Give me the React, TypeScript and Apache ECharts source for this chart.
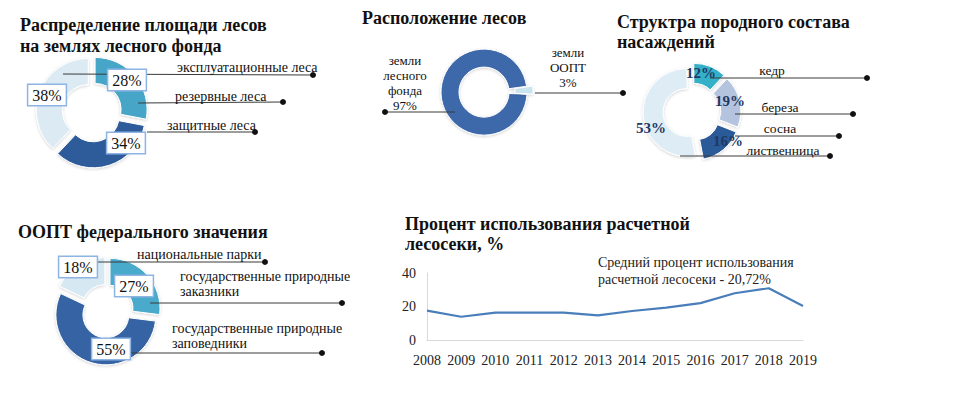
import React, { useEffect, useRef } from "react";
import * as echarts from "echarts";

// ---------- data ----------
const forestTypes = ["резервные леса", "защитные леса", "эксплуатационные леса"];
const forestTypeShares = [28, 34, 38];

const landCategories = ["земли\nлесного\nфонда", "земли\nООПТ"];
const landShares = [97, 3];

const species = ["кедр", "береза", "сосна", "лиственница"];
const speciesShares = [12, 19, 16, 53];

const ooptTypes = [
  "государственные природные\nзаказники",
  "государственные природные\nзаповедники",
  "национальные парки",
];
const ooptShares = [27, 55, 18];

const years = ["2008", "2009", "2010", "2011", "2012", "2013", "2014", "2015", "2016", "2017", "2018", "2019"];
const cuttingUsage = [17.5, 13.9, 16.3, 16.3, 16.3, 14.7, 17.3, 19.3, 22.0, 27.9, 30.9, 20.3];
const usageTicks = [0, 20, 40];

const titles = [
  "Распределение площади лесов\nна землях лесного фонда",
  "Расположение лесов",
  "Структра породного состава\nнасаждений",
  "ООПТ федерального значения",
  "Процент использования расчетной\nлесосеки, %",
];
const averageNote = "Средний процент использования\nрасчетной лесосеки - 20,72%";

// ---------- layout / style ----------
const FONT = "Liberation Serif, Times New Roman, serif";

const forestColors = ["#47a6c8", "#2d5b9b", "#dbeaf3"];
const landColors = ["#3d69ab", "#c9e3ef"];
const speciesColors = ["#36b0c9", "#b4c4df", "#2c5a97", "#deedf5"];
const ooptColors = ["#49aacb", "#3463a3", "#d6e9f3"];

type Leader = { from: number[]; dot: number[]; text?: number[]; align?: string };

const forestLayout = {
  center: [92, 112],
  radius: [26, 52],
  labels: [[127, 80], [126, 143], [47, 95]],
  leaders: [
    { from: [138, 103], dot: [283, 102], text: [175, 96], align: "left" },
    { from: [147, 132], dot: [255, 132], text: [167, 125], align: "left" },
    { from: [63, 74], dot: [313, 75], text: [177, 67], align: "left" },
  ] as Leader[],
};
const landLayout = {
  center: [487, 92],
  radius: [25, 43],
  labels: [[405, 83], [568, 67]],
  leaders: [
    { from: [455, 112], dot: [385, 112] },
    { from: [535, 93], dot: [623, 93] },
  ] as Leader[],
};
const speciesLayout = {
  center: [692, 112],
  radius: [24, 44],
  labels: [[701, 73], [730, 101], [728, 141], [651, 128]],
  leaders: [
    { from: [710, 78], dot: [867, 78], text: [772, 70], align: "center" },
    { from: [735, 114], dot: [853, 114], text: [780, 107], align: "center" },
    { from: [735, 136], dot: [839, 136], text: [780, 128], align: "center" },
    { from: [680, 156], dot: [830, 156], text: [783, 150], align: "center" },
  ] as Leader[],
};
const ooptLayout = {
  center: [107, 311],
  radius: [23, 50],
  labels: [[134, 286], [111, 349], [78, 267]],
  leaders: [
    { from: [150, 303], dot: [342, 303], text: [180, 284], align: "left" },
    { from: [130, 353], dot: [322, 353], text: [172, 336], align: "left" },
    { from: [90, 262], dot: [265, 262], text: [137, 254], align: "left" },
  ] as Leader[],
};

const boxStyle = {
  fontFamily: FONT,
  fontSize: 16,
  fill: "#111",
  align: "center",
  verticalAlign: "middle",
  backgroundColor: "#ffffff",
  borderColor: "#8eb4e3",
  borderWidth: 1.5,
  padding: [3, 4, 1, 4],
};
const speciesPctStyle = {
  fontFamily: FONT,
  fontSize: 15,
  fontWeight: "bold",
  fill: "#1f3864",
  align: "center",
  verticalAlign: "middle",
};
const landTextStyle = {
  fontFamily: FONT,
  fontSize: 13,
  lineHeight: 15,
  fill: "#111",
  align: "center",
  verticalAlign: "middle",
};

function pieSeries(
  names: string[],
  values: number[],
  colors: string[],
  layout: { center: number[]; radius: number[] },
  offset: number,
  startAngle: number
) {
  return {
    type: "pie",
    silent: true,
    center: layout.center,
    radius: layout.radius,
    startAngle,
    clockwise: true,
    selectedMode: "multiple",
    selectedOffset: offset,
    itemStyle: {
      borderColor: "#ffffff",
      borderWidth: 1,
      shadowColor: "rgba(0,0,0,0.18)",
      shadowBlur: 3,
      shadowOffsetY: 1,
    },
    select: { itemStyle: { borderColor: "#ffffff", borderWidth: 1 } },
    label: { show: false },
    labelLine: { show: false },
    data: values.map((v, i) => ({
      name: names[i],
      value: v,
      selected: true,
      itemStyle: { color: colors[i] },
    })),
  };
}

function pctGraphics(texts: string[], positions: number[][], style: any) {
  return texts.map((t, i) => ({
    type: "text",
    silent: true,
    z: 100,
    x: positions[i][0],
    y: positions[i][1],
    style: { ...style, text: t },
  }));
}

function leaderGraphics(names: string[] | null, leaders: Leader[], fontSize = 14) {
  const out: any[] = [];
  leaders.forEach((l, i) => {
    out.push({
      type: "line",
      silent: true,
      z: 90,
      shape: { x1: l.from[0], y1: l.from[1], x2: l.dot[0], y2: l.dot[1] },
      style: { stroke: "#3a3a3a", lineWidth: 1 },
    });
    out.push({
      type: "circle",
      silent: true,
      z: 90,
      shape: { cx: l.dot[0], cy: l.dot[1], r: 3 },
      style: { fill: "#111" },
    });
    if (names && l.text) {
      out.push({
        type: "text",
        silent: true,
        z: 90,
        x: l.text[0],
        y: l.text[1],
        style: {
          text: names[i],
          fontFamily: FONT,
          fontSize,
          fill: "#111",
          align: l.align,
          verticalAlign: "middle",
          lineHeight: 15,
        },
      });
    }
  });
  return out;
}

export default function App() {
  const ref = useRef<HTMLDivElement>(null);

  useEffect(() => {
    if (!ref.current) return;
    const chart = echarts.init(ref.current, undefined, { renderer: "svg" });

    const titleStyle = {
      fontFamily: FONT,
      fontSize: 18,
      fontWeight: "bold",
      color: "#111",
      lineHeight: 21,
    };

    const pct = (vals: number[]) => vals.map((v) => `${v}%`);

    const graphics: any[] = [
      ...leaderGraphics(forestTypes, forestLayout.leaders, 14),
      ...leaderGraphics(species, speciesLayout.leaders, 13.5),
      ...leaderGraphics(ooptTypes, ooptLayout.leaders, 14),
      ...leaderGraphics(null, landLayout.leaders),
      ...pctGraphics(pct(forestTypeShares), forestLayout.labels, boxStyle),
      ...pctGraphics(pct(ooptShares), ooptLayout.labels, boxStyle),
      ...pctGraphics(pct(speciesShares), speciesLayout.labels, speciesPctStyle),
      ...pctGraphics(
        landCategories.map((c, i) => `${c}\n${landShares[i]}%`),
        landLayout.labels,
        landTextStyle
      ),
    ];

    chart.setOption({
      animation: false,
      backgroundColor: "#ffffff",
      title: [
        { text: titles[0], left: 20, top: 14, padding: 0, textStyle: titleStyle },
        { text: titles[1], left: 362, top: 7, padding: 0, textStyle: titleStyle },
        { text: titles[2], left: 617, top: 12, padding: 0, textStyle: { ...titleStyle, lineHeight: 20 } },
        { text: titles[3], left: 18, top: 221, padding: 0, textStyle: titleStyle },
        { text: titles[4], left: 405, top: 214, padding: 0, textStyle: { ...titleStyle, lineHeight: 20 } },
        {
          text: averageNote,
          left: 598,
          top: 254,
          padding: 0,
          textStyle: { fontFamily: FONT, fontSize: 14, fontWeight: "normal", color: "#222", lineHeight: 17 },
        },
      ],
      grid: { left: 427, right: 168, top: 273, bottom: 54 },
      xAxis: {
        type: "category",
        data: years,
        boundaryGap: false,
        axisLine: { show: true, lineStyle: { color: "#d9d9d9", width: 1 } },
        axisTick: { show: false },
        axisLabel: { fontFamily: FONT, fontSize: 14, color: "#222", margin: 13, interval: 0 },
      },
      yAxis: {
        type: "value",
        min: usageTicks[0],
        max: usageTicks[usageTicks.length - 1],
        interval: usageTicks[1] - usageTicks[0],
        axisLine: { show: true, lineStyle: { color: "#d9d9d9", width: 1 } },
        axisTick: { show: false },
        splitLine: { show: false },
        axisLabel: { fontFamily: FONT, fontSize: 14, color: "#222", margin: 11 },
      },
      series: [
        pieSeries(forestTypes, forestTypeShares, forestColors, forestLayout, 4, 90),
        pieSeries(landCategories, landShares, landColors, landLayout, 3, -3),
        pieSeries(species, speciesShares, speciesColors, speciesLayout, 5, 90),
        pieSeries(ooptTypes, ooptShares, ooptColors, ooptLayout, 4, 90),
        {
          type: "line",
          silent: true,
          data: cuttingUsage,
          showSymbol: false,
          symbol: "none",
          lineStyle: { color: "#4a7ebb", width: 2.2 },
        },
      ],
      graphic: graphics,
    });

    return () => chart.dispose();
  }, []);

  return (
    <div
      ref={ref}
      style={{ position: "absolute", left: 0, top: 0, width: 971, height: 394 }}
    />
  );
}
